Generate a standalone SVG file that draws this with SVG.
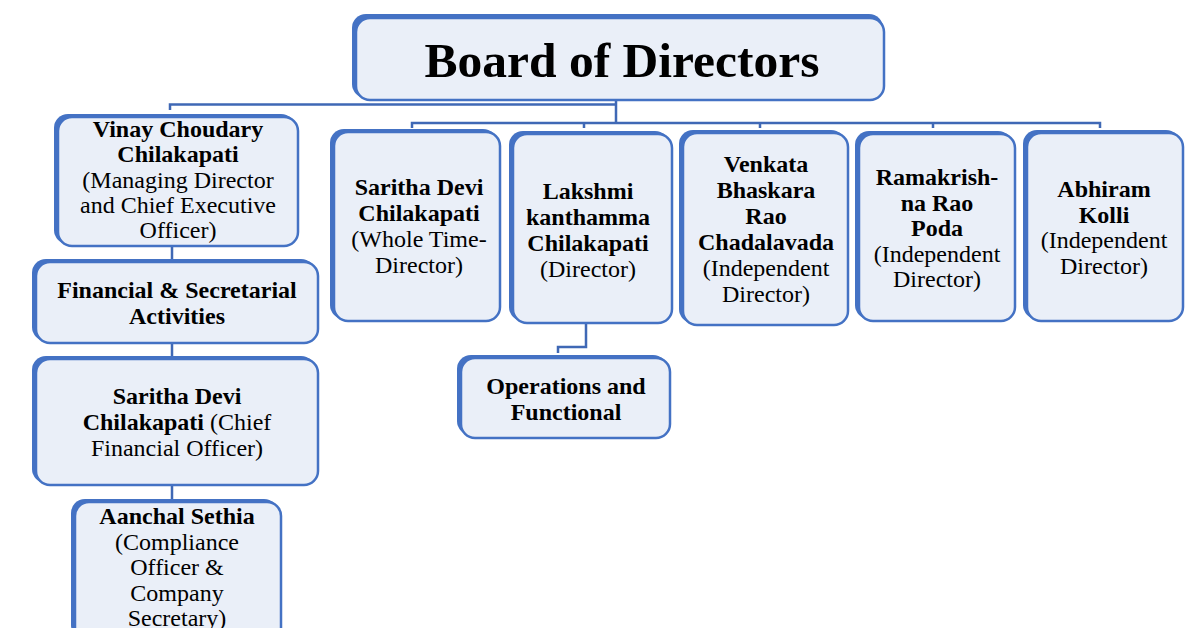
<svg xmlns="http://www.w3.org/2000/svg" width="1198" height="628" viewBox="0 0 1198 628">
<style>
.sh{fill:#4472c4}
.bx{fill:#eaeff8;stroke:#4472c4;stroke-width:2.5}
text{font-family:"Liberation Serif","Times New Roman",serif;font-size:24px;fill:#000;text-anchor:middle}
.b{font-weight:bold}
.c{fill:none;stroke:#3f68b5;stroke-width:2.5}
</style>
<rect width="1198" height="628" fill="#fff"/>
<g id="connectors">
<path class="c" d="M616 100 V123 M170 110 V104.5 H616 M412 128 V123 H1100 V128 M584 123 V128 M760 123 V128 M933 123 V128"/>
<path class="c" d="M172 246 V261 M172 343 V357 M172 486 V500"/>
<path class="c" d="M586 324 V347 H558 V353"/>
</g>
<g id="board">
<rect class="sh" x="352" y="14" width="531" height="84" rx="14"/>
<rect class="bx" x="356" y="18" width="528" height="82" rx="14"/>
<text class="b" x="622" y="77" style="font-size:49.5px">Board of Directors</text>
</g>
<g id="vinay">
<rect class="sh" x="54" y="114" width="241" height="130" rx="14"/>
<rect class="bx" x="58" y="117" width="240" height="129" rx="14"/>
<text x="178" y="137"><tspan class="b">Vinay Choudary</tspan><tspan class="b" x="178" dy="25.3">Chilakapati</tspan><tspan x="178" dy="25.3">(Managing Director</tspan><tspan x="178" dy="25.3">and Chief Executive</tspan><tspan x="178" dy="25.3">Officer)</tspan></text>
</g>
<g id="financial">
<rect class="sh" x="32" y="259" width="283" height="82" rx="14"/>
<rect class="bx" x="36" y="262" width="282" height="81" rx="14"/>
<text class="b" x="177" y="298">Financial &amp; Secretarial<tspan x="177" dy="26">Activities</tspan></text>
</g>
<g id="cfo">
<rect class="sh" x="32" y="356" width="283" height="127" rx="14"/>
<rect class="bx" x="36" y="359" width="282" height="126" rx="14"/>
<text x="177" y="404"><tspan class="b">Saritha Devi</tspan><tspan x="177" dy="26"><tspan class="b">Chilakapati</tspan> (Chief</tspan><tspan x="177" dy="25.5">Financial Officer)</tspan></text>
</g>
<g id="aanchal">
<rect class="sh" x="71" y="499" width="207" height="140" rx="14"/>
<rect class="bx" x="75" y="502" width="206" height="140" rx="14"/>
<text x="177" y="524"><tspan class="b">Aanchal Sethia</tspan><tspan x="177" dy="25.5">(Compliance</tspan><tspan x="177" dy="25.5">Officer &amp;</tspan><tspan x="177" dy="25.5">Company</tspan><tspan x="177" dy="25">Secretary)</tspan></text>
</g>
<g id="saritha-wtd">
<rect class="sh" x="330" y="129" width="167" height="190" rx="14"/>
<rect class="bx" x="334" y="132" width="166" height="189" rx="14"/>
<text x="419" y="195"><tspan class="b">Saritha Devi</tspan><tspan class="b" x="419" dy="26">Chilakapati</tspan><tspan x="419" dy="26">(Whole Time-</tspan><tspan x="419" dy="26">Director)</tspan></text>
</g>
<g id="lakshmi">
<rect class="sh" x="509" y="131" width="160" height="190" rx="14"/>
<rect class="bx" x="513" y="134" width="159" height="189" rx="14"/>
<text x="588" y="199"><tspan class="b">Lakshmi</tspan><tspan class="b" x="588" dy="26">kanthamma</tspan><tspan class="b" x="588" dy="26">Chilakapati</tspan><tspan x="588" dy="26">(Director)</tspan></text>
</g>
<g id="operations">
<rect class="sh" x="457" y="355" width="210" height="80" rx="14"/>
<rect class="bx" x="461" y="358" width="209" height="80" rx="14"/>
<text class="b" x="566" y="394">Operations and<tspan x="566" dy="26">Functional</tspan></text>
</g>
<g id="venkata">
<rect class="sh" x="679" y="130" width="166" height="193" rx="14"/>
<rect class="bx" x="683" y="133" width="165" height="192" rx="14"/>
<text x="766" y="172"><tspan class="b">Venkata</tspan><tspan class="b" x="766" dy="26">Bhaskara</tspan><tspan class="b" x="766" dy="26">Rao</tspan><tspan class="b" x="766" dy="26">Chadalavada</tspan><tspan x="766" dy="26">(Independent</tspan><tspan x="766" dy="26">Director)</tspan></text>
</g>
<g id="ramakrishna">
<rect class="sh" x="855" y="131" width="157" height="188" rx="14"/>
<rect class="bx" x="859" y="134" width="156" height="187" rx="14"/>
<text x="937" y="185"><tspan class="b">Ramakrish-</tspan><tspan class="b" x="937" dy="25.5">na Rao</tspan><tspan class="b" x="937" dy="25.5">Poda</tspan><tspan x="937" dy="25.5">(Independent</tspan><tspan x="937" dy="25.5">Director)</tspan></text>
</g>
<g id="abhiram">
<rect class="sh" x="1023" y="130" width="157" height="189" rx="14"/>
<rect class="bx" x="1027" y="133" width="156" height="188" rx="14"/>
<text x="1104" y="197"><tspan class="b">Abhiram</tspan><tspan class="b" x="1104" dy="25.5">Kolli</tspan><tspan x="1104" dy="25.5">(Independent</tspan><tspan x="1104" dy="25.5">Director)</tspan></text>
</g>
</svg>
